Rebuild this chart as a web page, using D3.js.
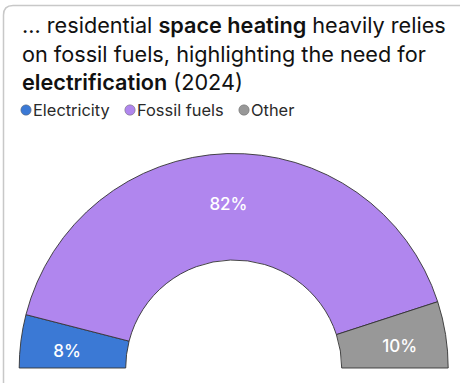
<!DOCTYPE html>
<html>
<head>
<meta charset="utf-8">
<script src="https://cdn.jsdelivr.net/npm/d3@7/dist/d3.min.js"></script>
<style>
  html, body { margin: 0; padding: 0; background: #fff; }
  svg { display: block; font-family: Inter, "Noto Sans", sans-serif; }
</style>
</head>
<body>
<svg id="chart" width="460" height="383"></svg>
<script>
// Share of residential space heating by energy source, 2024
const categories = ["Electricity", "Fossil fuels", "Other"];
const shares = [8, 82, 10];
const labels = ["8%", "82%", "10%"];
const colors = ["#3b79d5", "#b086ee", "#989898"];

const svg = d3.select("#chart");

// card outline: rounded top-left corner, open to the right and bottom
svg.append("path")
  .attr("d", "M3.5,383 L3.5,15 Q3.5,5.5 13,5.5 L460,5.5")
  .attr("fill", "none")
  .attr("stroke", "#c8c8c8")
  .attr("stroke-width", 1.5);

// title with bold emphasis, sized so the first line spans the card width
const titleX = 22, titleMaxW = 424;
const title = svg.append("text")
  .attr("x", titleX)
  .attr("font-size", 23)
  .attr("fill", "#111");
const lines = [
  [["… residential ", 400], ["space heating", 600], [" heavily relies", 400]],
  [["on fossil fuels, highlighting the need for", 400]],
  [["electrification", 600], [" (2024)", 400]]
];
const lineNodes = lines.map((parts, i) => {
  const row = title.append("tspan").attr("x", titleX).attr("y", 33 + i * 28.5);
  parts.forEach(p => row.append("tspan").text(p[0]).attr("font-weight", p[1]));
  return row;
});
const widest = d3.max(lineNodes, r => r.node().getComputedTextLength());
if (widest > titleMaxW) title.attr("font-size", 23 * titleMaxW / widest);

// legend
const legend = svg.append("g").attr("transform", "translate(0,110)");
const legendX = [26, 130, 244];
categories.forEach((c, i) => {
  const g = legend.append("g").attr("transform", `translate(${legendX[i]},0)`);
  g.append("circle").attr("r", 5.2).attr("fill", colors[i])
    .attr("stroke", "#666").attr("stroke-width", 0.5);
  g.append("text").attr("x", 7).attr("y", 5.7)
    .attr("font-size", 16.4).attr("fill", "#2a2a2a").text(c);
});

// half-donut
const cx = 233.7, cy = 368, outerR = 214.5, innerR = 108;
const pie = d3.pie().sort(null).value(d => d)
  .startAngle(-Math.PI / 2).endAngle(Math.PI / 2);
const arc = d3.arc().innerRadius(innerR).outerRadius(outerR);
const labelArc = d3.arc().innerRadius(168).outerRadius(168);
const arcs = pie(shares);

const g = svg.append("g").attr("transform", `translate(${cx},${cy})`);
g.selectAll("path.slice").data(arcs).join("path")
  .attr("class", "slice")
  .attr("d", arc)
  .attr("fill", (d, i) => colors[i])
  .attr("stroke", "#333")
  .attr("stroke-width", 0.9);

g.selectAll("text.lbl").data(arcs).join("text")
  .attr("class", "lbl")
  .attr("transform", d => {
    const [x, y] = labelArc.centroid(d);
    // keep the labels near the lower band of the gauge
    return `translate(${x},${y + 4})`;
  })
  .attr("text-anchor", "middle")
  .attr("dy", "0.36em")
  .attr("font-size", 17)
  .attr("font-weight", 500)
  .attr("fill", "#fff")
  .text((d, i) => labels[i]);
</script>
</body>
</html>
